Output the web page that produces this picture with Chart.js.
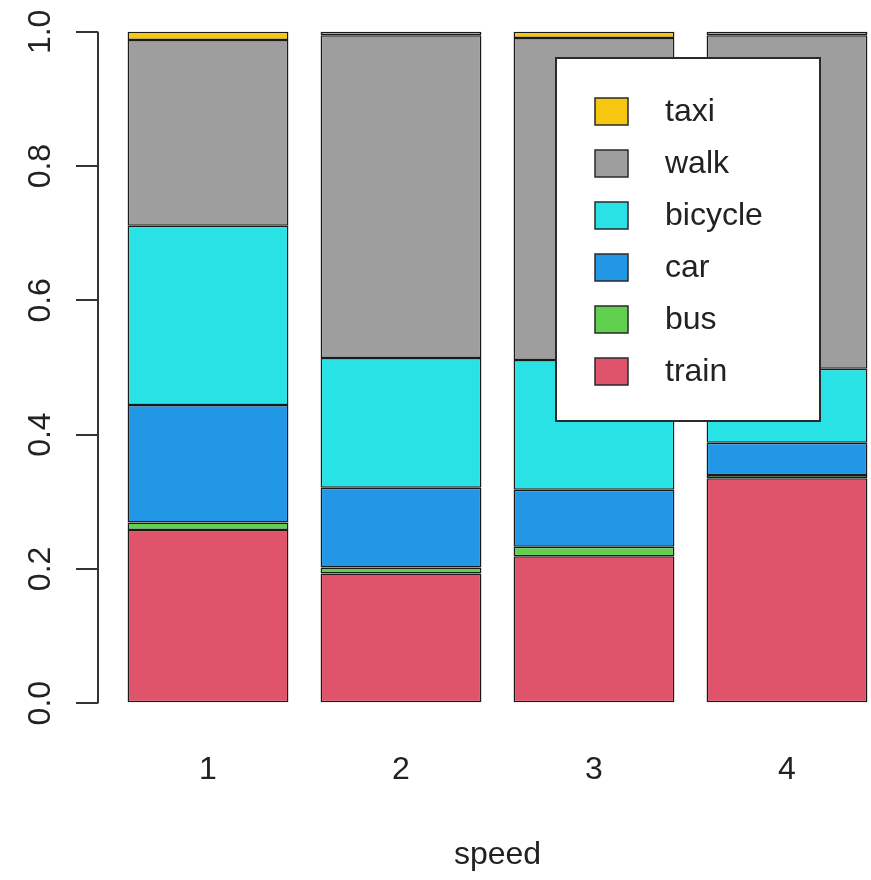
<!DOCTYPE html>
<html>
<head>
<meta charset="utf-8">
<script src="https://cdn.jsdelivr.net/npm/chart.js@4.4.1/dist/chart.umd.min.js"></script>
<style>
  html, body { margin: 0; padding: 0; background: #fff; overflow: hidden; }
  #wrap { width: 900px; height: 880px; }
</style>
</head>
<body>
<div id="wrap"><canvas id="modeChart" width="900" height="880"></canvas></div>
<script>
// share of each travel mode per speed group (bottom to top)
const speeds = ['1', '2', '3', '4'];
const modes = ['train', 'bus', 'car', 'bicycle', 'walk', 'taxi'];
const modeColors = ['#DF536B', '#61D04F', '#2297E6', '#28E2E5', '#9E9E9E', '#F5C710'];
const train = [0.258, 0.193, 0.219, 0.335];
const bus = [0.011, 0.009, 0.014, 0.005];
const car = [0.175, 0.119, 0.085, 0.048];
const bicycle = [0.267, 0.193, 0.193, 0.110];
const walk = [0.277, 0.481, 0.480, 0.497];
const taxi = [0.012, 0.005, 0.009, 0.005];
const yTicks = [0, 0.2, 0.4, 0.6, 0.8, 1.0];

const FONT = '"Liberation Sans", Arial, sans-serif';
const TEXT = '#222';

// barplot style: bar width 1, space 0.2 -> midpoints
const mids = speeds.map((s, i) => 0.2 + i * 1.2 + 0.5);
const series = [train, bus, car, bicycle, walk, taxi];

const datasets = series.map((vals, k) => ({
  label: modes[k],
  data: vals.map((v, i) => ({ x: mids[i], y: v })),
  backgroundColor: modeColors[k],
  borderColor: '#1a1a1a',
  borderWidth: 1.5,
  borderSkipped: false,
  categoryPercentage: 1,
  barPercentage: 1 / 1.2
}));

// y axis drawn like base R: line only over 0..1, labels turned sideways
const rAxis = {
  id: 'rAxis',
  afterDraw(chart) {
    const ctx = chart.ctx;
    const y = chart.scales.y;
    const left = chart.chartArea.left;
    ctx.save();
    ctx.strokeStyle = '#333';
    ctx.lineWidth = 2;
    ctx.beginPath();
    ctx.moveTo(left, y.getPixelForValue(0));
    ctx.lineTo(left, y.getPixelForValue(1));
    ctx.stroke();
    ctx.font = '32px ' + FONT;
    ctx.fillStyle = TEXT;
    ctx.textAlign = 'center';
    ctx.textBaseline = 'middle';
    yTicks.forEach(v => {
      ctx.save();
      ctx.translate(41, y.getPixelForValue(v));
      ctx.rotate(-Math.PI / 2);
      ctx.fillText(v.toFixed(1), 0, 0);
      ctx.restore();
    });
    ctx.restore();
  }
};

// boxed legend in the top right, top entry first
const boxLegend = {
  id: 'boxLegend',
  afterDraw(chart) {
    const ctx = chart.ctx;
    ctx.save();
    ctx.fillStyle = '#fff';
    ctx.fillRect(556, 58, 264, 363);
    ctx.strokeStyle = '#2a2a2a';
    ctx.lineWidth = 2;
    ctx.strokeRect(556, 58, 264, 363);
    ctx.font = '32px ' + FONT;
    ctx.textBaseline = 'middle';
    const items = chart.data.datasets.slice().reverse();
    items.forEach((ds, i) => {
      const cy = 111 + i * 52;
      ctx.fillStyle = ds.backgroundColor;
      ctx.fillRect(595, cy - 13, 33, 27);
      ctx.strokeStyle = '#2a2a2a';
      ctx.lineWidth = 1.5;
      ctx.strokeRect(595, cy - 13, 33, 27);
      ctx.fillStyle = TEXT;
      ctx.fillText(ds.label, 665, cy + 1);
    });
    ctx.restore();
  }
};

new Chart(document.getElementById('modeChart'), {
  type: 'bar',
  data: { datasets: datasets },
  options: {
    responsive: false,
    animation: false,
    layout: { padding: { left: 0, right: 3, top: 5, bottom: 0 } },
    plugins: {
      legend: { display: false },
      tooltip: { enabled: false }
    },
    scales: {
      x: {
        type: 'linear',
        stacked: true,
        offset: false,
        min: 0.016,
        max: 4.984,
        grid: { display: false, drawTicks: false, offset: false },
        border: { display: false },
        afterBuildTicks: scale => { scale.ticks = mids.map(v => ({ value: v })); },
        afterFit: scale => { scale.height = 150; },
        ticks: {
          autoSkip: false,
          maxRotation: 0,
          padding: 21,
          color: TEXT,
          font: { family: FONT, size: 32 },
          callback: (val, idx) => speeds[idx]
        },
        title: {
          display: true,
          text: 'speed',
          color: TEXT,
          font: { family: FONT, size: 32 },
          padding: { top: 0, bottom: 6 }
        }
      },
      y: {
        stacked: true,
        min: -0.04,
        max: 1.04,
        afterBuildTicks: scale => { scale.ticks = yTicks.map(v => ({ value: v })); },
        afterFit: scale => { scale.width = 98; },
        border: { display: false },
        grid: {
          drawOnChartArea: false,
          drawTicks: true,
          tickLength: 22,
          color: '#333',
          lineWidth: 2
        },
        ticks: { display: false }
      }
    }
  },
  plugins: [rAxis, boxLegend]
});
</script>
</body>
</html>
